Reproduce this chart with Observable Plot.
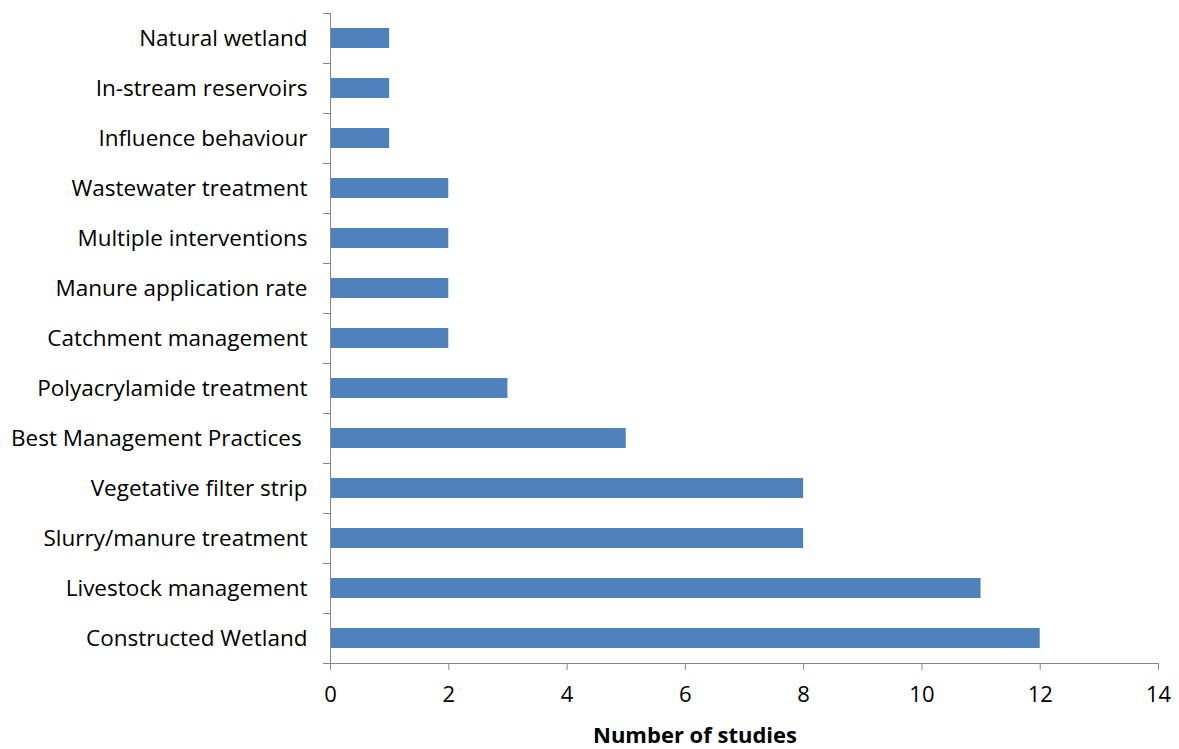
<!DOCTYPE html>
<html>
<head>
<meta charset="utf-8">
<script src="https://cdn.jsdelivr.net/npm/d3@7"></script>
<script src="https://cdn.jsdelivr.net/npm/@observablehq/plot@0.6"></script>
<style>
  body { margin: 0; background: #fff; }
  #chart { width: 1179px; }
  #xlabel { width: 1179px; text-align: center; font-family: "Open Sans", "Noto Sans", sans-serif; font-weight: bold; font-size: 22px; padding-left: 211px; box-sizing: border-box; line-height: 29px; color: #000; }
  svg text { font-family: "Open Sans", "Noto Sans", sans-serif; }
</style>
</head>
<body>
<div id="chart"></div>
<div id="xlabel">Number of studies</div>
<script>
const categories = [
  "Natural wetland",
  "In-stream reservoirs",
  "Influence behaviour",
  "Wastewater treatment",
  "Multiple interventions",
  "Manure application rate",
  "Catchment management",
  "Polyacrylamide treatment",
  "Best Management Practices\u00A0",
  "Vegetative filter strip",
  "Slurry/manure treatment",
  "Livestock management",
  "Constructed Wetland"
];
const studies = [1, 1, 1, 2, 2, 2, 2, 3, 5, 8, 8, 11, 12];
const xTicks = [0, 2, 4, 6, 8, 10, 12, 14];

const data = categories.map((c, i) => ({category: c, value: studies[i]}));
const axisColor = "#868686";

const plot = Plot.plot({
  width: 1179,
  height: 720,
  marginTop: 13,
  marginBottom: 57,
  marginLeft: 330,
  marginRight: 21,
  style: {fontSize: "20px", color: "#000", background: "#fff"},
  x: {domain: [0, 14], ticks: xTicks},
  y: {domain: categories, paddingInner: 0.6, paddingOuter: 0.3},
  marks: [
    Plot.barX(data, {x: "value", y: "category", fill: "#4F81BD"}),
    Plot.axisY({tickSize: 0, tickPadding: 23, fontSize: 22.5, label: null}),
    Plot.axisY({text: null, tickSize: 7, dy: -25, stroke: axisColor, label: null}),
    Plot.axisY({ticks: [categories[categories.length - 1]], text: null, tickSize: 7, dy: 25, stroke: axisColor, label: null}),
    Plot.axisX({ticks: xTicks, tickSize: 7, tickPadding: 16, fontSize: 22, stroke: axisColor, label: null}),
    Plot.frame({anchor: "left", stroke: axisColor}),
    Plot.frame({anchor: "bottom", stroke: axisColor})
  ]
});
document.getElementById("chart").appendChild(plot);
</script>
</body>
</html>
